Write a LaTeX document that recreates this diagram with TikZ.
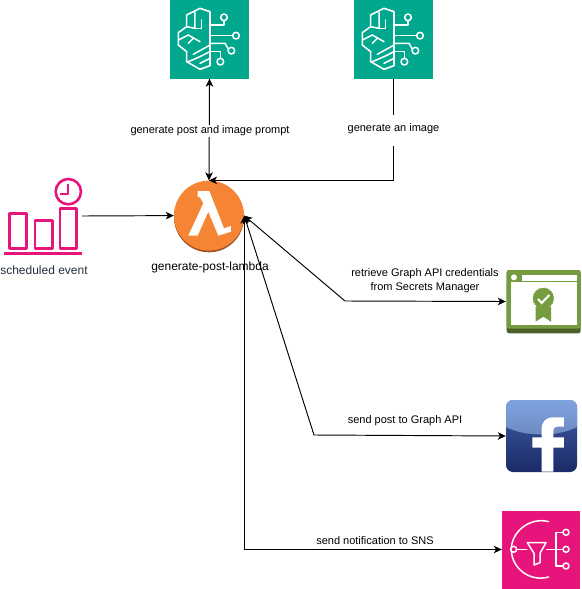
\documentclass[tikz,border=0pt]{standalone}
\usepackage{fontspec}
\setmainfont{Liberation Sans}
\usetikzlibrary{arrows.meta,calc}
\definecolor{bedrock}{HTML}{01A88D}
\definecolor{pinkaws}{HTML}{E7157B}
\definecolor{lamorange}{HTML}{F58534}
\definecolor{lambrown}{HTML}{9D5025}
\definecolor{secgreen}{HTML}{759C3E}
\definecolor{secdark}{HTML}{4B612C}
\definecolor{fbtop}{HTML}{7FA3E0}
\definecolor{fbgloss}{HTML}{6C88BE}
\definecolor{fbmid}{HTML}{3F5FA5}
\definecolor{fbbot}{HTML}{1B2A68}
\definecolor{txtgray}{HTML}{232F3E}
\tikzset{
  x=1pt,y=-1pt,
  conn/.style={draw=black,line width=0.95pt,-{Stealth[length=8pt,width=7.5pt,inset=2.2pt]}},
  conn2/.style={draw=black,line width=0.95pt,{Stealth[length=8pt,width=7.5pt,inset=2.2pt]}-{Stealth[length=8pt,width=7.5pt,inset=2.2pt]}},
  lbl/.style={font=\fontsize{11}{14}\selectfont,text=black,fill=white,inner sep=1pt,align=center},
  iconbox/.style={inner sep=0pt,minimum width=#1,minimum height=#1},
  ico/.style={draw=white,line width=1.5pt,line join=round,line cap=round},
  evline/.style={draw=pinkaws,line width=2.6pt,line join=round},
}
\newcommand{\brainart}{%
  \draw[ico,line width=1.6pt] (150,35)--(120,25)--(80,45)--(80,80)--(55,98)--(55,135)--(80,155)--(80,185)--(120,208)--(150,197)--cycle;
  \draw[ico] (105,37)--(105,85)--(80,80);
  \draw[ico] (125,60)--(125,85)--(105,85);
  \draw[ico] (55,120)--(85,105)--(120,125);
  \draw[ico] (100,115)--(85,130);
  \draw[ico] (100,163)--(150,135);
  \draw[ico] (85,185)--(120,170)--(150,155);
  \draw[ico] (120,190)--(150,175);
  \draw[ico] (150,75)--(192,75)--(192,62);
  \draw[ico] (192,52) circle[radius=10];
  \draw[ico] (150,107)--(218,107);
  \draw[ico] (228,107) circle[radius=10];
  \draw[ico] (150,130)--(195,130)--(205,147);
  \draw[ico] (214,152) circle[radius=10];
  \draw[ico] (150,155)--(181,155)--(181,175);
  \draw[ico] (181,185) circle[radius=10];
}
\begin{document}
\begin{tikzpicture}
\useasboundingbox (0,0) rectangle (581,589);
% named icon nodes
\node[iconbox=79pt,fill=bedrock] (brainA) at (209.5,39) {};
\node[iconbox=79pt,fill=bedrock] (brainB) at (393.5,39) {};
\begin{scope}[shift={(160,0)},x=0.3333pt,y=-0.3333pt]\brainart\end{scope}
\begin{scope}[shift={(344,0)},x=0.3333pt,y=-0.3333pt]\brainart\end{scope}
% event
\node[inner sep=0pt,minimum width=78pt,minimum height=78pt] (event) at (43,216) {};
\begin{scope}[shift={(0,170)},x=0.3333pt,y=-0.3333pt]
  \draw[evline] (28,130) rectangle (80,235);
  \draw[evline] (105,152) rectangle (157,235);
  \draw[evline] (180,115) rectangle (230,235);
  \draw[evline] (13,250)--(247,250);
  \draw[evline] (205,65) circle[radius=38];
  \draw[evline,line width=2pt] (205,42)--(205,72)--(180,72);
\end{scope}
\node[font=\fontsize{12}{14}\selectfont,text=txtgray,inner sep=0pt] (eventlabel) at (44,270) {scheduled event};
% lambda
\fill[lambrown] (209,217.3) circle[radius=35];
\node[circle,fill=lamorange,inner sep=0pt,minimum size=70pt] (lambda) at (209,215.6) {};
\begin{scope}[shift={(0,170)},x=0.3333pt,y=-0.3333pt]
\fill[white] (593,63)--(628,63)--(672,175)--(693,168)--(693,185)--(655,197)--(625,125)--(593,197)--(565,197)--(610,100)--(600,82)--(593,80)--cycle;
\end{scope}
\node[font=\fontsize{12}{14}\selectfont,text=black,inner sep=0pt] (lambdalabel) at (210,267) {generate-post-lambda};
% secrets
\node[inner sep=0pt,minimum width=74pt,minimum height=64pt] (secrets) at (543,301.5) {};
\begin{scope}[shift={(490,260)},x=0.3333pt,y=-0.3333pt]
  \fill[secdark,rounded corners=2.5pt] (50,30) rectangle (272,220);
  \fill[secgreen,rounded corners=2.5pt] (50,30) rectangle (272,206);
  \fill[white] (62,65) rectangle (260,195);
  \fill[white] (95,45) rectangle (260,62);
  \fill[white] (72,52) circle[radius=9];
  \fill[secgreen] (137,140)--(137,185)--(160,170)--(183,185)--(183,140)--cycle;
  \fill[secgreen] (160,115) circle[radius=31];
  \draw[secgreen,line width=1.4pt,line cap=round,dash pattern=on 0pt off 2.6pt] (160,115) circle[radius=31];
  \draw[white,line width=2pt] (144,117)--(155,129)--(178,105);
\end{scope}
% facebook
\node[inner sep=0pt,minimum width=71pt,minimum height=72pt] (fb) at (541.5,436) {};
\path[rounded corners=7pt,top color=fbmid,bottom color=fbbot] (506,400) rectangle (577,472);
\begin{scope}
  \clip[rounded corners=7pt] (506,400) rectangle (577,472);
  \path[top color=fbtop,bottom color=fbgloss] (506,400) -- (577,400) -- (577,427) .. controls (558,437) and (525,437) .. (506,427) -- cycle;
\end{scope}
\begin{scope}[shift={(490,395)},x=0.3333pt,y=-0.3333pt]
  \fill[white] (155,230)--(190,230)--(190,158)--(222,158)--(222,127)--(190,127)--(190,107)
    .. controls (190,98) and (194,95) .. (203,95) -- (222,95)--(222,67)--(190,67)
    .. controls (168,67) and (155,80) .. (155,102) -- (155,127)--(127,127)--(127,158)--(155,158)--cycle;
\end{scope}
% sns
\node[inner sep=0pt,minimum width=78pt,minimum height=78pt,fill=pinkaws] (sns) at (541,549.5) {};
\begin{scope}[shift={(490,395)},x=0.3333pt,y=-0.3333pt]
  \draw[ico] (176,380) .. controls (120,365) and (64,410) .. (64,463) .. controls (64,520) and (120,562) .. (176,546);
  \draw[ico,fill=pinkaws] (71,463) circle[radius=9];
  \draw[ico] (80,463)--(110,463);
  \draw[ico] (112,443)--(168,443)--(150,475)--(150,503)--(132,510)--(132,475)--cycle;
  \draw[ico] (170,463)--(218,463);
  \draw[ico] (218,412)--(198,412)--(198,513)--(218,513);
  \draw[ico] (228,412) circle[radius=9];
  \draw[ico] (228,463) circle[radius=9];
  \draw[ico] (228,513) circle[radius=9];
\end{scope}
% waypoints
\coordinate (wpB) at (brainB.south |- lambda.north);
\coordinate (wpS) at (345,301);
\coordinate (wpF) at (314,435);
\coordinate (wpN) at (lambda.east |- sns.west);
% connectors
\draw[conn2] (brainA.south) -- (lambda.north);
\draw[conn] (brainB.south) -- (wpB) -- (lambda.north);
\draw[conn] (event.east) -- (lambda.west);
\draw[conn2] (lambda.east) -- (wpS) -- (secrets.west);
\draw[conn2] (lambda.east) -- (wpF) -- (fb.west);
\draw[conn2] (lambda.east) -- (wpN) -- (sns.west);
% labels
\node[lbl] (l1) at (210,131) {generate post and image prompt};
\node[lbl,inner sep=0pt,minimum height=31pt] (l2) at (393.5,130.5) {\raisebox{6.5pt}{generate an image}};
\node[lbl,fill=none] (l3) at (425,281) {retrieve Graph API credentials\\from Secrets Manager};
\node[lbl,fill=none] (l4) at (405,421) {send post to Graph API};
\node[lbl,fill=none] (l5) at (375,541) {send notification to SNS};
\end{tikzpicture}
\end{document}
